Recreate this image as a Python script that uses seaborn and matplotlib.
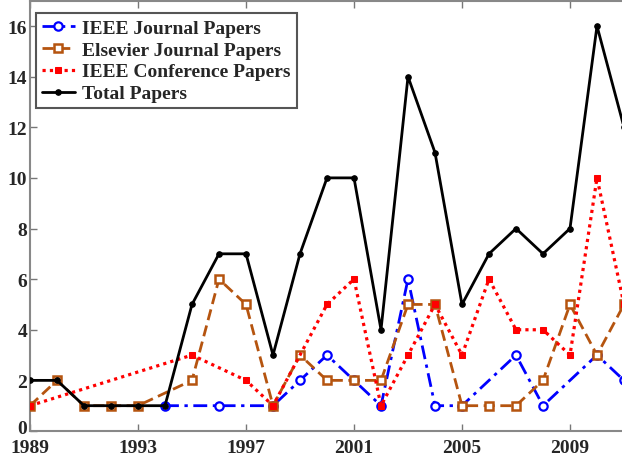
import matplotlib
matplotlib.use("Agg")
import matplotlib.pyplot as plt
import matplotlib.transforms as mtransforms
import seaborn as sns
import pandas as pd

# Yearly paper counts per venue
ieee_years = [1994, 1996, 1998, 1999, 2000, 2001, 2002, 2003, 2004, 2005, 2007, 2008, 2010, 2011]
ieee_counts = [1, 1, 1, 2, 3, 2, 1, 6, 1, 1, 3, 1, 3, 2]

elsevier_years = [1989, 1990, 1991, 1992, 1993, 1995, 1996, 1997, 1998, 1999, 2000, 2001,
                  2002, 2003, 2004, 2005, 2006, 2007, 2008, 2009, 2010, 2011]
elsevier_counts = [1, 2, 1, 1, 1, 2, 6, 5, 1, 3, 2, 2, 2, 5, 5, 1, 1, 1, 2, 5, 3, 5]

conf_years = [1989, 1995, 1997, 1998, 2000, 2001, 2002, 2003, 2004, 2005, 2006, 2007,
              2008, 2009, 2010, 2011]
conf_counts = [1, 3, 2, 1, 5, 6, 1, 3, 5, 3, 6, 4, 4, 3, 10, 5]

total_years = list(range(1989, 2012))
total_counts = [2, 2, 1, 1, 1, 1, 5, 7, 7, 3, 7, 10, 10, 4, 14, 11, 5, 7, 8, 7, 8, 16, 12]

x_ticks = [1989, 1993, 1997, 2001, 2005, 2009]
y_ticks = [0, 2, 4, 6, 8, 10, 12, 14, 16]

sns.set_style("ticks")
plt.rcParams["font.family"] = ["Liberation Serif", "DejaVu Serif"]
plt.rcParams["font.weight"] = "bold"

fig = plt.figure(figsize=(6.22, 4.64), dpi=100)
# axes run past the right edge of the canvas
ax = fig.add_axes([30 / 622, 32 / 464, 27 * 23 / 622, 430.3 / 464])

brown = "#b5540f"

ieee = pd.DataFrame({"year": ieee_years, "n": ieee_counts})
els = pd.DataFrame({"year": elsevier_years, "n": elsevier_counts})
conf = pd.DataFrame({"year": conf_years, "n": conf_counts})
tot = pd.DataFrame({"year": total_years, "n": total_counts})

sns.lineplot(data=ieee, x="year", y="n", ax=ax, color="#0000ff",
             linestyle=(0, (5, 2, 1.2, 2)),
             linewidth=2, marker="o", markersize=6, markerfacecolor="white",
             markeredgecolor="#0000ff", markeredgewidth=1.6, label="IEEE Journal Papers",
             zorder=3)
sns.lineplot(data=els, x="year", y="n", ax=ax, color=brown, linestyle=(0, (4, 2)),
             linewidth=2, marker="s", markersize=6, markerfacecolor="white",
             markeredgecolor=brown, markeredgewidth=1.8, label="Elsevier Journal Papers",
             zorder=4)
sns.lineplot(data=conf, x="year", y="n", ax=ax, color="#ff0000", linestyle=(0, (1, 1.3)),
             linewidth=2.3, marker="s", markersize=4.5, markerfacecolor="#ff0000",
             markeredgecolor="#ff0000", label="IEEE Conference Papers", zorder=5)
sns.lineplot(data=tot, x="year", y="n", ax=ax, color="black", linestyle="-",
             linewidth=2, marker="o", markersize=4, markerfacecolor="black",
             markeredgecolor="black", label="Total Papers", zorder=6)

ax.set_xlim(1989, 2012)
ax.set_ylim(0, 17)
ax.set_xticks(x_ticks)
ax.set_yticks(y_ticks)
ax.set_xlabel("")
ax.set_ylabel("")
ax.tick_params(direction="in", length=5, width=1, color="#777777", top=True,
               right=False, labelsize=14, pad=2)
ax.tick_params(axis="x", pad=6)
for lab in ax.get_xticklabels() + ax.get_yticklabels():
    lab.set_fontweight("bold")
for s in ax.spines.values():
    s.set_color("#888888")
    s.set_linewidth(1.5)

# lift the "0" label slightly so it clears the first year label
zero_lab = ax.get_yticklabels()[0]
zero_lab.set_transform(zero_lab.get_transform()
                       + mtransforms.ScaledTranslation(0, 3 / 72, fig.dpi_scale_trans))

leg = ax.legend(loc="upper left", bbox_to_anchor=(0.003, 0.98), frameon=True, fancybox=False,
                edgecolor="#555555", framealpha=1, handlelength=1.7, handletextpad=0.4,
                labelspacing=0.22, borderpad=0.3, borderaxespad=0.2,
                prop={"family": "Liberation Serif", "weight": "bold", "size": 14})
leg.get_frame().set_linewidth(1.5)

fig.savefig("out.png", dpi=100)
